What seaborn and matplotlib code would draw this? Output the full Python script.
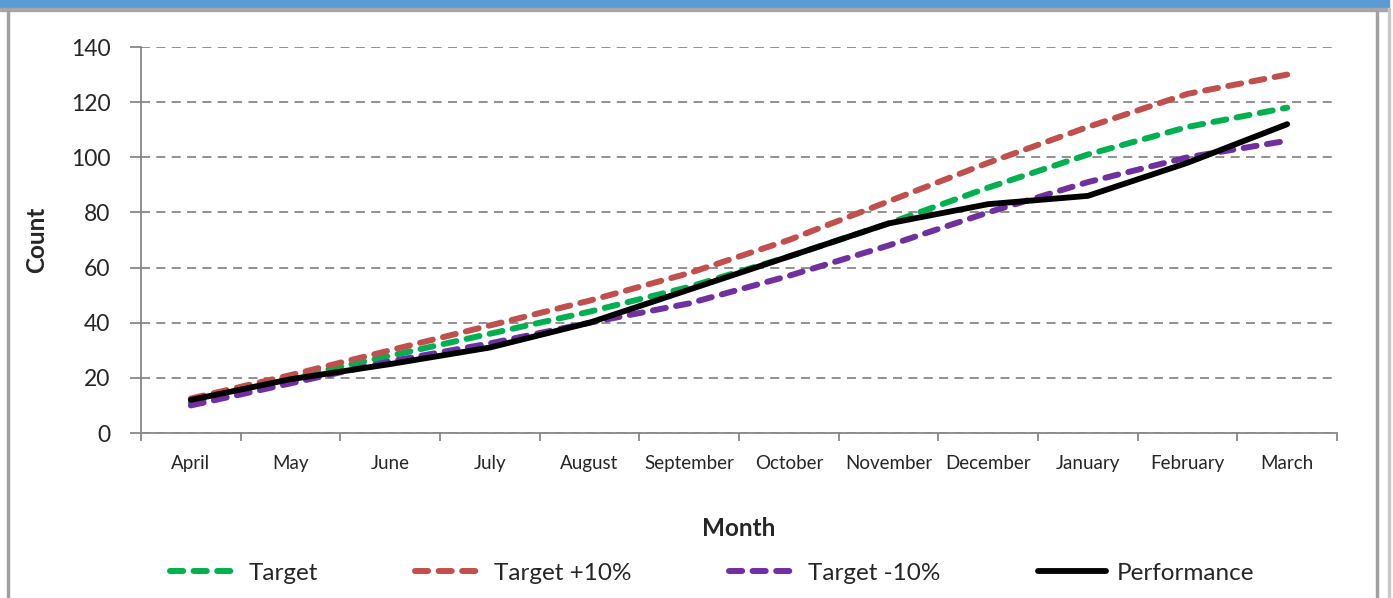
import numpy as np
import pandas as pd
import matplotlib
matplotlib.use("Agg")
import matplotlib.pyplot as plt
import seaborn as sns
from matplotlib.patches import Rectangle

months = ["April", "May", "June", "July", "August", "September", "October",
          "November", "December", "January", "February", "March"]
target = [11, 20, 28, 36, 44, 53, 64, 76, 89, 101, 111, 118]
target_plus = [12.5, 21, 30, 39, 48, 58, 70, 84, 98, 111, 123, 130]
target_minus = [10, 18, 26, 32.5, 40, 47, 57, 68, 80, 91, 100, 106]
performance = [12, 19.5, 25, 31, 40, 52, 64, 76, 83, 86, 98, 112]
y_ticks = [0, 20, 40, 60, 80, 100, 120, 140]

series_names = ["Target", "Target +10%", "Target -10%", "Performance"]
series_vals = [target, target_plus, target_minus, performance]
colors = ["#00B050", "#C0504D", "#7030A0", "#000000"]

sns.set_theme(style="white")
plt.rcParams['font.family'] = ['Lato', 'DejaVu Sans']

fig = plt.figure(figsize=(13.93, 5.98), dpi=100)
ax = fig.add_axes([141/1393, 1-433/598, (1337-141)/1393, (433-47)/598])

x = np.arange(len(months))
for name, vals, c in zip(series_names, series_vals, colors):
    df = pd.DataFrame({"idx": x, "val": vals})
    if name == "Performance":
        sns.lineplot(data=df, x="idx", y="val", ax=ax, color=c, lw=4.2,
                     label=name, solid_capstyle="round", zorder=5)
    else:
        sns.lineplot(data=df, x="idx", y="val", ax=ax, color=c, lw=4.3,
                     label=name, zorder=4)
        ln = ax.lines[-1]
        ln.set_linestyle((0, (2.2, 1.75)))
        ln.set_dash_capstyle("round")

ax.set_xlim(-0.5, len(months) - 0.5)
ax.set_ylim(0, 140)
ax.set_yticks(y_ticks)
ax.set_yticklabels([str(t) for t in y_ticks], fontsize=16.5)
ax.set_xticks(x)
ax.set_xticklabels(months, fontsize=13.5)
ax.set_xticks(np.arange(-0.5, len(months)), minor=True)
ax.tick_params(axis="x", which="major", length=0, pad=16)
ax.tick_params(axis="x", which="minor", length=6, width=1.3, color="#888888", direction="out", bottom=True)
ax.tick_params(axis="y", length=8, width=1.3, color="#888888", direction="out", left=True, pad=14)

ax.grid(axis="y", color="#888888", linestyle=(0, (5, 3.5)), lw=1.3)
ax.grid(axis="x", visible=False)
for s in ["top", "right"]:
    ax.spines[s].set_visible(False)
for s in ["left", "bottom"]:
    ax.spines[s].set_color("#888888")
    ax.spines[s].set_linewidth(1.3)

ax.set_ylabel("Count", fontsize=17.5, fontweight="bold", labelpad=16)
ax.set_xlabel("Month", fontsize=17.5, fontweight="bold", labelpad=32)

handles, labels = ax.get_legend_handles_labels()
ax.get_legend().remove()
fig.legend(handles, labels, loc="center", bbox_to_anchor=(712/1393, 1-573/598),
           ncol=4, frameon=False, fontsize=17.5, handlelength=2.8,
           handletextpad=0.45, columnspacing=4.0)

# Frame decorations
fig.patches.append(Rectangle((0, 1-8/598), 1389/1393, 8/598, transform=fig.transFigure,
                             color="#5B9BD5", zorder=0))
fig.patches.append(Rectangle((0, 1-11/598), 1389/1393, 2.5/598, transform=fig.transFigure,
                             color="#A6A6A6", zorder=0))
fig.patches.append(Rectangle((7/1393, 0), 2/1393, 1-11/598, transform=fig.transFigure,
                             color="#A0A0A0", zorder=0))
fig.patches.append(Rectangle((1376/1393, 0), 2/1393, 1-11/598, transform=fig.transFigure,
                             color="#A0A0A0", zorder=0))
fig.patches.append(Rectangle((1388/1393, 0), 2/1393, 1-8/598, transform=fig.transFigure,
                             color="#C8C8C8", zorder=0))

fig.savefig("out.png", dpi=100)
